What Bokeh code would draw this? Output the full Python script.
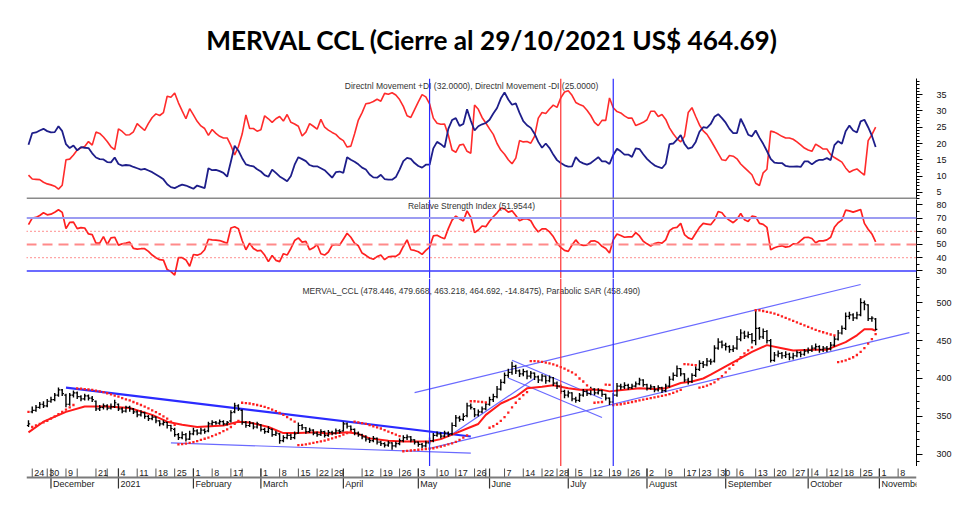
import numpy as np
import pandas as pd
from bokeh.plotting import figure
from bokeh.layouts import column
from bokeh.models import Range1d, FixedTicker, Span
from bokeh.core.properties import value
from bokeh.embed import file_html
from bokeh.resources import INLINE

# ---------------- texts ----------------
TITLE = "MERVAL CCL (Cierre al 29/10/2021 US$ 464.69)"
DI_TITLE = "Directnl Movement +DI (32.0000), Directnl Movement -DI (25.0000)"
RSI_TITLE = "Relative Strength Index (51.9544)"
PRICE_TITLE = "MERVAL_CCL (478.446, 479.668, 463.218, 464.692, -14.8475), Parabolic SAR (458.490)"

# ---------------- calendar ----------------
first_day = "2020-11-20"
holidays = ["2020-11-23", "2020-12-07", "2020-12-08", "2020-12-24", "2020-12-25", "2020-12-31",
            "2021-01-01", "2021-02-15", "2021-02-16", "2021-03-24", "2021-04-01", "2021-04-02",
            "2021-05-24", "2021-05-25", "2021-06-21", "2021-07-09", "2021-08-16", "2021-10-08",
            "2021-10-11", "2021-11-22"]

# ---------------- daily prices (OHLC) ----------------
close_px = [340,358,362,366,364,370,372,378,385,380,
            366,378,381,376,373,377,374,372,360,362,
            364,361,363,368,360,357,362,360,356,352,
            355,350,347,349,344,340,342,338,334,326,
            322,326,320,327,331,328,332,330,340,342,
            341,343,340,342,355,364,360,342,338,341,
            336,340,333,330,334,326,328,318,322,325,
            322,327,338,335,330,332,328,326,330,325,
            329,328,331,330,340,337,333,328,326,323,
            320,318,321,316,314,312,315,311,314,318,
            322,323,319,316,313,311,315,318,325,327,
            324,328,326,338,348,346,350,364,362,352,
            356,360,366,372,376,386,395,404,408,416,
            410,406,409,403,407,402,398,403,397,401,
            394,390,383,378,381,373,371,378,383,380,
            386,381,384,379,374,369,378,390,389,391,
            388,390,393,398,392,387,389,385,388,384,
            390,399,404,413,406,398,396,404,412,420,
            418,423,422,440,448,444,442,438,440,452,
            460,456,458,450,466,455,462,450,424,431,
            433,430,432,428,430,434,432,436,437,440,
            442,438,440,439,444,452,460,466,482,484,
            480,484,500,498,479,479.54,464.69]
open_px = [338,356,358,362,366,364,370,372,378,385,
           378,366,378,381,376,373,377,374,370,360,
           362,364,361,363,366,360,357,362,360,356,
           352,355,350,347,349,344,340,342,338,333,
           326,322,326,320,327,331,328,332,331,340,
           342,341,343,340,344,356,364,358,342,338,
           341,336,339,333,330,333,326,327,318,322,
           325,322,328,338,335,330,332,328,326,330,
           325,329,328,331,331,340,337,333,328,326,
           323,320,318,321,316,314,312,315,311,314,
           318,322,323,319,316,313,311,315,318,325,
           327,324,328,327,338,348,346,351,364,360,
           352,356,360,366,372,376,386,395,404,408,
           416,410,406,409,403,407,402,398,403,397,
           401,394,390,383,378,381,373,371,378,383,
           380,386,381,384,379,374,369,378,390,389,
           391,388,390,393,398,392,387,389,385,388,
           384,390,399,404,413,406,398,396,404,412,
           420,418,423,423,440,448,444,442,438,440,
           452,460,456,458,450,466,455,462,450,424,
           431,433,430,432,428,430,434,432,436,437,
           440,442,438,440,439,444,452,460,466,482,
           484,480,484,500,497,479,478.446]
high_px = [345,363,365,369,370,373,376,381,388,386,
           380,381,384,383,378,380,379,377,371,365,
           367,366,367,372,367,362,364,364,361,358,
           358,356,352,352,350,345,345,343,339,335,
           328,330,328,331,335,333,335,334,343,345,
           344,346,345,344,358,368,366,359,344,344,
           342,343,340,335,337,334,331,328,325,328,
           327,330,342,340,336,335,333,330,333,331,
           332,331,334,333,343,342,338,334,330,327,
           325,322,324,322,318,316,318,316,317,321,
           325,326,324,320,317,315,318,322,328,330,
           329,331,330,342,352,351,354,368,367,361,
           359,363,369,376,380,390,399,408,413,422,
           418,412,413,411,410,408,404,406,404,404,
           402,396,392,385,384,382,376,381,386,385,
           389,387,387,385,380,375,381,394,393,395,
           393,393,396,401,399,393,392,390,391,389,
           393,403,408,417,414,407,401,407,416,424,
           423,427,426,444,453,450,447,444,444,456,
           465,463,462,460,490,468,466,464,452,435,
           437,435,436,434,434,437,436,439,441,444,
           446,444,443,443,448,456,464,470,487,488,
           486,488,506,503,498,482,479.668]
low_px = [336,354,356,360,361,362,368,370,376,377,
          362,364,375,373,370,371,371,369,357,357,
          359,358,359,361,357,354,355,356,353,349,
          350,347,344,345,341,337,338,334,330,323,
          319,320,317,319,325,325,326,327,329,338,
          339,339,338,338,342,354,357,339,335,336,
          333,334,330,327,328,323,324,314,316,320,
          319,320,327,332,327,328,325,323,324,322,
          323,325,326,327,330,334,330,325,323,320,
          317,315,316,313,311,309,310,306,309,312,
          316,319,316,313,310,308,309,313,316,323,
          321,322,323,325,336,343,344,349,359,349,
          350,354,358,364,369,374,384,393,401,405,
          406,402,403,399,400,398,394,396,393,395,
          390,386,380,374,375,370,368,369,376,377,
          378,378,379,376,371,365,367,376,385,386,
          385,386,388,391,389,384,385,382,383,381,
          382,388,397,402,403,395,392,394,402,410,
          414,416,418,421,438,440,437,434,435,438,
          449,452,453,446,444,451,452,446,421,422,
          428,426,427,424,425,428,428,430,433,435,
          437,434,435,435,437,442,450,458,464,478,
          476,478,482,490,476,475,463.218]

# parabolic SAR, one value per day
sar = [356,336,338,340,342,344,347,350,353,356,
       359,362,365,387,386.5,386,385.5,385,384,383,
       382,380.5,379,377.5,376,374,372.5,371,369,367,
       365,363,360.5,358,355.5,353,350,347,343,339,
       313,313.5,314,315,316,317.5,319,320.5,322,324,
       326,328,330.5,333,336,340,344,368,367.5,367,
       366,365,364,362.5,361,359,357,354.5,352,349,
       346,343,312,312.5,313,314,315,316,317,318,
       319.5,321,322.5,324,326,328,330,343,342,341,
       340,338.5,337,335.5,334,332,330,328,326,324,
       304,304.5,305,305.5,306,306.5,307,307.5,308,309,
       310,311.5,313,314.5,316.5,319,322,325,370,370,
       369.5,369,368.5,335,337,340,344,349,355,362,
       368,373,378,382,423,423,422.5,422,421,420,
       418.5,417,415,413,410.5,408,405,400,396,391,
       386,368,368.5,369,392,391.5,365,365.5,366,367,
       368,369,370,371,372,373,374,375,376,377,
       378,379.5,381,383,385,419,418.5,418,417.5,388,
       389,390.5,392.5,395,399,403,408,413,418,423,
       428,433,437,441,490,490,489,488,487,485.5,
       484,482,480,478,476,474,472,470,468,466,
       464,462.5,461,459.5,458,457,421.5,422.5,424,426,
       428,431,435,440,446,452,458.49]

# moving average (read at sample dates)
ma_dates = ["2020-11-20","2020-11-27","2020-12-09","2020-12-16","2020-12-28","2021-01-07",
            "2021-01-15","2021-01-21","2021-01-27","2021-02-02","2021-02-11","2021-02-19",
            "2021-02-24","2021-03-03","2021-03-09","2021-03-15","2021-03-22","2021-03-26",
            "2021-04-06","2021-04-09","2021-04-14","2021-04-21","2021-04-27","2021-05-06",
            "2021-05-11","2021-05-17","2021-05-20","2021-05-27","2021-05-31","2021-06-04",
            "2021-06-10","2021-06-15","2021-06-22","2021-06-25","2021-07-01","2021-07-06",
            "2021-07-15","2021-07-19","2021-07-23","2021-07-29","2021-08-04","2021-08-09",
            "2021-08-13","2021-08-19","2021-08-24","2021-08-26","2021-09-01","2021-09-07",
            "2021-09-10","2021-09-16","2021-09-22","2021-09-27","2021-10-04","2021-10-12",
            "2021-10-14","2021-10-19","2021-10-22","2021-10-26","2021-10-28","2021-10-29"]
ma_vals = [329,343,356,363,363,361,352,343,339,336,338,343,342,336,328,328,329,327,
           329,327,321,318,317,317,320,328,334,340,352,367,376,387,389,391,387,385,
           385,383,385,387,386,387,394,396,400,405,416,427,435,444,440,437,438,438,
           442,448,457,465,465,463]

# trend lines drawn on the chart (first one is the heavy one)
tl_start = ["2020-12-09","2021-01-22","2021-05-06","2021-04-30","2021-05-13","2021-06-09","2021-06-08"]
tl_start_val = [388, 315, 307.7, 381.3, 323, 424, 400.7]
tl_end = ["2021-05-21","2021-05-21","2021-11-11","2021-10-25","2021-06-17","2021-07-15","2021-07-15"]
tl_end_val = [323.5, 301.5, 460.5, 524, 400, 373.3, 348.5]

# event markers
event_dates = ["2021-05-06", "2021-06-29", "2021-07-20"]
event_colors = ["#2b2bff", "#ff3030", "#2b2bff"]

# ---------------- indicators ----------------
di_plus = [19.6,23.2,23.4,24.0,24.5,23.8,23.4,23.5,25.3,23.8,
           19.8,18.6,19.4,17.9,18.9,18.7,18.6,17.0,15.7,15.2,
           15.1,14.3,14.2,15.7,13.7,13.2,13.4,13.3,12.8,12.4,
           12.0,12.2,11.7,11.2,10.5,9.8,9.0,7.5,6.6,6.3,
           6.9,7.4,7.1,6.6,6.1,7.1,6.7,6.3,12.4,11.8,
           11.9,11.5,11.0,9.8,14.5,19.3,17.8,15.5,13.6,13.2,
           13.0,12.1,11.4,10.3,9.8,12.0,11.0,9.9,9.2,8.4,
           10.0,13.5,15.8,15.2,14.6,13.4,13.0,13.0,12.4,11.8,
           10.7,9.5,11.2,11.4,11.0,15.8,15.0,14.4,13.6,12.6,
           12.0,10.5,9.6,9.5,10.4,9.1,8.9,8.9,9.7,12.0,
           14.6,15.6,15.3,14.0,13.1,12.6,13.5,13.5,18.5,20.5,
           19.8,18.8,24.5,27.2,27.8,25.4,26.0,30.5,27.0,24.0,
           25.3,25.9,26.3,27.3,29.2,30.9,33.8,35.7,33.5,31.9,
           32.3,29.4,26.9,25.6,24.8,23.0,20.5,18.7,20.0,18.6,
           16.6,14.9,14.0,13.3,12.9,13.0,15.8,14.5,13.9,13.5,
           14.0,14.9,15.8,14.5,14.5,13.7,16.5,18.4,17.6,16.6,
           16.6,15.9,18.5,18.3,16.7,15.3,14.2,13.3,12.8,12.4,
           13.8,19.8,20.0,21.2,22.6,19.9,18.4,18.8,20.5,23.6,
           25.0,24.8,26.0,28.2,29.0,27.8,26.4,24.5,23.2,23.2,
           27.6,25.3,22.7,22.2,24.0,21.8,19.9,17.7,15.3,14.1,
           14.0,14.0,13.1,12.9,12.9,13.0,12.8,14.5,14.5,13.6,
           14.5,15.0,15.0,15.5,14.9,19.5,20.7,19.9,23.8,25.5,
           24.0,23.4,26.8,27.3,25.0,22.4,18.9]
di_minus = [10.3,9.1,9.0,8.9,8.1,7.6,7.3,6.9,6.0,7.2,
            15.0,15.2,16.5,18.0,18.7,19.1,20.6,19.5,23.5,23.1,
            22.0,20.6,19.0,18.1,24.5,23.7,22.6,22.7,23.6,26.1,
            25.0,24.0,26.2,28.0,29.1,28.6,29.5,34.5,34.2,35.5,
            32.5,30.0,27.6,30.7,28.8,26.8,25.4,24.6,22.5,24.3,
            23.1,22.2,21.7,21.7,19.4,16.5,19.0,22.9,28.8,24.6,
            24.6,23.8,24.2,28.5,27.6,26.5,27.6,28.3,26.9,28.9,
            26.5,26.0,25.3,22.3,23.5,26.1,25.3,24.4,27.4,25.0,
            24.1,23.4,22.8,21.6,20.9,18.9,19.2,23.0,27.2,29.5,
            32.2,32.4,32.9,33.6,33.0,35.4,35.1,35.6,34.9,33.5,
            31.4,28.5,28.0,30.4,32.8,35.0,34.3,32.2,27.8,26.2,
            25.9,26.0,22.6,18.0,17.3,19.5,19.8,17.6,17.0,31.8,
            30.5,28.0,26.3,24.5,22.8,20.0,18.0,16.7,15.0,13.8,
            15.5,20.9,20.5,20.6,20.1,22.2,27.8,29.5,29.2,30.6,
            31.8,31.1,34.0,35.8,36.2,34.8,32.6,32.0,31.5,30.2,
            28.6,26.5,25.5,27.1,27.1,34.0,31.0,29.8,29.4,28.5,
            27.8,27.8,25.5,26.0,26.5,27.3,29.9,29.9,28.3,28.9,
            27.4,24.8,23.0,21.5,20.5,22.2,29.5,31.0,28.3,25.7,
            23.9,22.8,21.0,19.0,17.0,15.0,14.8,16.3,16.1,15.3,
            13.7,12.6,11.5,10.4,7.8,7.1,11.0,12.1,23.8,23.5,
            22.9,22.2,21.7,21.7,21.3,20.5,19.6,18.6,18.0,17.6,
            19.8,19.1,18.3,18.3,16.6,15.7,15.0,14.3,12.5,11.2,
            11.8,12.2,11.2,10.3,20.9,22.7,25.0]
rsi = [65,70,70.5,72,74,72.5,73,74.5,76.3,74.3,
       62,66.8,67,62,62.8,62.5,58,57.5,51,51,
       56,50,55,55.5,49.5,50.5,51,51.8,47,46.5,
       46.8,46.8,44.8,42,40,38.5,38.2,31,29.5,26.8,
       40,40,38.3,33.5,42.4,41.9,43,46,54,53.5,
       53.3,53,52,51,62.5,63.5,62,53,46,51,
       47,45.2,45.5,42,37,41.7,38,37,43,42,
       47,53,55,51.8,52.3,46,47.5,50,43,42,
       44.3,49.3,50,49.5,54,58.5,55.5,51,49,43.5,
       41.8,39.8,38.8,40.8,42,38.5,40.6,41,41,43,
       48.5,53.5,46,45.5,44.5,42.5,45.5,48,56.5,57,
       55.5,54.3,62,68.5,71.5,69.5,67.8,75.5,70.5,59,
       61,64,63.5,67.6,71,74,77.5,77,74.5,75.5,
       72,68,69.3,69.5,68,63,59.5,61.8,61.8,59.5,
       56,51,47.8,45.5,44.8,49.6,53.5,50,49.3,49.5,
       52.5,52.8,51.5,48.6,47,43.5,53.5,58,56.8,55.5,
       55.8,55.7,59,56.5,52.5,50.5,48.8,50.7,51.5,51,
       53.5,60.5,62.5,63,66,57.5,55,54,58.5,63,
       66,65.5,65,68.5,75,74,70.5,68.3,66.5,69,
       73.5,68.8,67.5,71.5,71,66,65.3,63,46,47.5,
       48.5,49,48,48.5,50.5,50.5,53,55.3,55.5,54.5,
       51.3,52.8,52.8,53.5,55.5,63,66.5,68.5,76,75.5,
       74.5,75.5,76.5,66,61.5,58,52]
rsi_levels = [70, 60, 50, 40, 30]

# ---------------- axis labels ----------------
day_tick_dates = ["2020-11-24","2020-11-30","2020-12-09","2020-12-21","2021-01-04","2021-01-11",
                  "2021-01-18","2021-01-25","2021-02-01","2021-02-08","2021-02-17","2021-03-01",
                  "2021-03-08","2021-03-15","2021-03-22","2021-03-29","2021-04-12","2021-04-19",
                  "2021-04-26","2021-05-03","2021-05-10","2021-05-17","2021-05-26","2021-06-07",
                  "2021-06-14","2021-06-22","2021-06-28","2021-07-05","2021-07-12","2021-07-19",
                  "2021-07-26","2021-08-02","2021-08-09","2021-08-17","2021-08-23","2021-08-30",
                  "2021-09-06","2021-09-13","2021-09-20","2021-09-27","2021-10-04","2021-10-12",
                  "2021-10-18","2021-10-25","2021-11-01","2021-11-08"]
blank_tick_dates = ["2020-12-14", "2020-12-28", "2021-02-22", "2021-05-31"]
month_labels = ["December", "2021", "February", "March", "April", "May", "June", "July",
                "August", "September", "October", "November"]

# ---------------- build ----------------
cal = pd.bdate_range(first_day, "2021-11-30")
cal = cal[~cal.isin(pd.to_datetime(holidays))]
pos = {d.strftime("%Y-%m-%d"): i for i, d in enumerate(cal)}

LB, RB = 26, 55
W = LB + 890 + RB
X0, X1 = -0.53, 236.9
xr = Range1d(X0, X1)
XMID = (X0 + X1) / 2
FONT = value("Liberation Sans")

x = np.arange(len(close_px))


def panel(h, ylo, yhi, majors, minors):
    p = figure(width=W, height=h, x_range=xr, y_range=Range1d(ylo, yhi), title=None,
               output_backend="svg", toolbar_location=None,
               x_axis_location=None, y_axis_location="right",
               min_border_left=LB, min_border_right=RB, min_border_top=0, min_border_bottom=0)
    p.grid.visible = False
    p.outline_line_color = None
    p.background_fill_color = "white"
    p.border_fill_color = "white"
    ax = p.yaxis[0]
    ax.ticker = FixedTicker(ticks=majors, minor_ticks=minors)
    ax.axis_line_color = "black"
    ax.axis_line_width = 1
    ax.major_tick_line_color = "black"
    ax.minor_tick_line_color = "black"
    ax.major_tick_out = 6
    ax.major_tick_in = 0
    ax.minor_tick_out = 3
    ax.minor_tick_in = 0
    ax.major_label_text_font = "Liberation Sans"
    ax.major_label_text_font_size = "9px"
    ax.major_label_text_color = "#111111"
    ax.major_label_standoff = 14
    for d, c in zip(event_dates, event_colors):
        p.add_layout(Span(location=pos[d], dimension="height", line_color=c, line_width=1.2))
    return p


# title
TH = 78
pt = figure(width=W, height=TH, x_range=Range1d(0, W), y_range=Range1d(0, TH), title=None,
            output_backend="svg", toolbar_location=None, x_axis_location=None, y_axis_location=None,
            min_border=0)
pt.grid.visible = False
pt.outline_line_color = None
pt.text(x=[196], y=[39], text=[TITLE], text_font=value("Lato"), text_font_style="bold",
        text_font_size="26.2px", text_align="left", text_baseline="middle", text_color="black")

# DI panel
pd_ = panel(121, 2.81, 39.96, list(range(5, 40, 5)), list(range(3, 40)))
pd_.add_layout(Span(location=3.1, dimension="width", line_color="#8a8a8a", line_width=2))
pd_.line(x, di_minus, line_color="#ff2b2b", line_width=1.6)
pd_.line(x, di_plus, line_color="#1e1e8a", line_width=1.8)
pd_.text(x=[XMID], y=[37.8], text=[DI_TITLE], text_font=FONT, text_font_size="8.5px",
         text_align="center", text_baseline="middle", text_color="#333333")

# RSI panel
pr = panel(79, 24.24, 84.09, list(range(30, 90, 10)), list(range(25, 85, 5)))
pr.add_layout(Span(location=rsi_levels[0], dimension="width", line_color="#9c9cf2", line_width=2))
pr.add_layout(Span(location=rsi_levels[1], dimension="width", line_color="#ff4d4d", line_width=1.3, line_dash="1 3"))
pr.add_layout(Span(location=rsi_levels[2], dimension="width", line_color="#ff8a8a", line_width=2, line_dash="10 6"))
pr.add_layout(Span(location=rsi_levels[3], dimension="width", line_color="#ff4d4d", line_width=1.3, line_dash="1 3"))
pr.add_layout(Span(location=rsi_levels[4], dimension="width", line_color="#3a3aff", line_width=1.5))
pr.line(x, rsi, line_color="#ff2020", line_width=1.7)
pr.text(x=[XMID], y=[79.0], text=[RSI_TITLE], text_font=FONT, text_font_size="8.5px",
        text_align="center", text_baseline="middle", text_color="#333333")

# price panel
pm = panel(188, 283.9, 531.9, list(range(300, 550, 50)), list(range(290, 540, 10)))
tx0 = [pos[d] for d in tl_start]
tx1 = [pos[d] for d in tl_end]
pm.segment(x0=tx0[1:], y0=tl_start_val[1:], x1=tx1[1:], y1=tl_end_val[1:],
           line_color="#6a6aff", line_width=1.2)
pm.segment(x0=tx0[:1], y0=tl_start_val[:1], x1=tx1[:1], y1=tl_end_val[:1],
           line_color="#2b2bff", line_width=2.2)
pm.line([pos[d] for d in ma_dates], ma_vals, line_color="#ff1a1a", line_width=2)
pm.segment(x0=x, y0=low_px, x1=x, y1=high_px, line_color="black", line_width=1.4)
pm.segment(x0=x - 0.45, y0=open_px, x1=x, y1=open_px, line_color="black", line_width=1.2)
pm.segment(x0=x, y0=close_px, x1=x + 0.45, y1=close_px, line_color="black", line_width=1.2)
pm.scatter(x, sar, marker="square", size=2.3, fill_color="#ff2020", line_color=None)
pm.text(x=[XMID], y=[515.2], text=[PRICE_TITLE], text_font=FONT, text_font_size="8.5px",
        text_align="center", text_baseline="middle", text_color="#333333")

# date axis strip
ps = figure(width=W, height=38, x_range=xr, y_range=Range1d(0, 38), title=None,
            output_backend="svg", toolbar_location=None, x_axis_location=None, y_axis_location=None,
            min_border_left=LB, min_border_right=RB, min_border_top=0, min_border_bottom=0)
ps.grid.visible = False
ps.outline_line_color = None
ps.add_layout(Span(location=27, dimension="width", line_color="#7a7a7a", line_width=2))
dx = [pos[d] for d in day_tick_dates]
bx = [pos[d] for d in blank_tick_dates]
allx = dx + bx
ps.segment(x0=allx, y0=[27] * len(allx), x1=allx, y1=[36] * len(allx), line_color="#555555", line_width=1)
ps.text(x=dx, y=[31.5] * len(dx), text=[str(int(d[8:])) for d in day_tick_dates], x_offset=2,
        text_font=FONT, text_font_size="9px", text_align="left", text_baseline="middle",
        text_color="#222222")
mx = [i for i in range(1, len(cal)) if cal[i].month != cal[i - 1].month and i < X1]
ps.segment(x0=mx, y0=[16] * len(mx), x1=mx, y1=[36] * len(mx), line_color="#333333", line_width=1.2)
ps.text(x=mx, y=[20.5] * len(mx), text=month_labels[:len(mx)], x_offset=2,
        text_font=FONT, text_font_size="9px", text_align="left", text_baseline="middle",
        text_color="#222222")

layout = column(pt, pd_, pr, pm, ps, spacing=0)
open("out.html", "w").write(file_html(layout, INLINE))
